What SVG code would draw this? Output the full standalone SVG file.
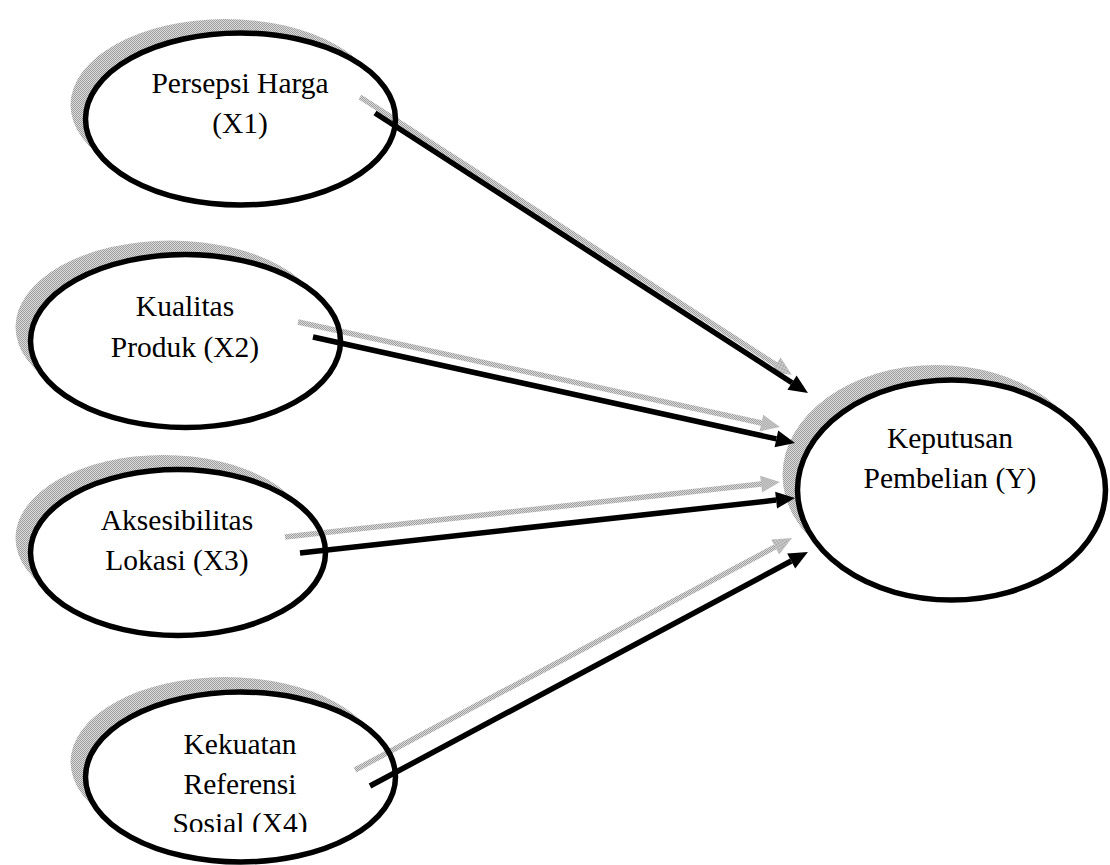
<svg xmlns="http://www.w3.org/2000/svg" width="1110" height="865" viewBox="0 0 1110 865">
  <defs>
    <pattern id="ht" patternUnits="userSpaceOnUse" width="2" height="2">
      <rect x="0" y="0" width="1" height="1" fill="#000" fill-opacity="0.38"/>
      <rect x="1" y="1" width="1" height="1" fill="#000" fill-opacity="0.38"/>
      <rect x="1" y="0" width="1" height="1" fill="#000" fill-opacity="0.14"/>
      <rect x="0" y="1" width="1" height="1" fill="#000" fill-opacity="0.14"/>
    </pattern>
    <marker id="headB" markerUnits="userSpaceOnUse" markerWidth="20" markerHeight="18" refX="0" refY="0" orient="auto" overflow="visible">
      <path d="M0,-8.5 L19,0 L0,8.5 Z" fill="#000"/>
    </marker>
    <marker id="headG" markerUnits="userSpaceOnUse" markerWidth="20" markerHeight="18" refX="0" refY="0" orient="auto" overflow="visible">
      <path d="M0,-8.5 L19,0 L0,8.5 Z" fill="url(#ht)"/>
    </marker>
    <clipPath id="clipX4">
      <rect x="0" y="0" width="1110" height="832"/>
    </clipPath>
  </defs>
  <style>
    .shadow { fill: url(#ht); stroke: none; }
    .node { fill: #fff; stroke: #000; stroke-width: 5.5; }
    .lbl { font-family: "Liberation Serif", "Times New Roman", serif; font-size: 29.5px; fill: #000; text-anchor: middle; }
    .ab { stroke: #000; stroke-width: 5.5; fill: none; marker-end: url(#headB); }
    .ag { stroke: url(#ht); stroke-width: 5.5; fill: none; marker-end: url(#headG); }
  </style>

  <g id="node-x1">
    <ellipse class="shadow" cx="225.5" cy="105" rx="155" ry="86"/>
    <ellipse class="node" cx="240.5" cy="119" rx="155" ry="86"/>
    <text class="lbl" x="240" y="93">Persepsi Harga</text>
    <text class="lbl" x="240" y="133">(X1)</text>
  </g>

  <g id="node-x2">
    <ellipse class="shadow" cx="170.5" cy="327" rx="155" ry="86.5"/>
    <ellipse class="node" cx="185.5" cy="341" rx="155" ry="86.5"/>
    <text class="lbl" x="185" y="316">Kualitas</text>
    <text class="lbl" x="185" y="356.5">Produk (X2)</text>
  </g>

  <g id="node-x3">
    <ellipse class="shadow" cx="163" cy="538" rx="147.5" ry="83"/>
    <ellipse class="node" cx="178" cy="552.5" rx="147.5" ry="83"/>
    <text class="lbl" x="177" y="530">Aksesibilitas</text>
    <text class="lbl" x="177" y="570">Lokasi (X3)</text>
  </g>

  <g id="node-x4">
    <ellipse class="shadow" cx="225.5" cy="762" rx="155" ry="85"/>
    <ellipse class="node" cx="240.5" cy="777" rx="155" ry="85"/>
    <text class="lbl" x="240" y="754">Kekuatan</text>
    <text class="lbl" x="240" y="793.5">Referensi</text>
    <text class="lbl" x="240" y="833" clip-path="url(#clipX4)">Sosial (X4)</text>
  </g>

  <g id="node-y">
    <ellipse class="shadow" cx="936.5" cy="475" rx="154" ry="110"/>
    <ellipse class="node" cx="951.5" cy="490" rx="154" ry="110"/>
    <text class="lbl" x="950" y="448">Keputusan</text>
    <text class="lbl" x="950" y="488">Pembelian (Y)</text>
  </g>

  <g id="connectors">
    <line class="ag" x1="360" y1="97" x2="776.0" y2="364.7"/>
    <line class="ab" x1="375" y1="113" x2="792.0" y2="382.7"/>

    <line class="ag" x1="298" y1="322" x2="761.4" y2="423.0"/>
    <line class="ab" x1="313" y1="337" x2="776.4" y2="438.9"/>

    <line class="ag" x1="285" y1="537" x2="761.1" y2="484.1"/>
    <line class="ab" x1="300" y1="553" x2="776.1" y2="500.1"/>

    <line class="ag" x1="355" y1="770" x2="775.2" y2="546.9"/>
    <line class="ab" x1="370" y1="786" x2="791.2" y2="561.0"/>
  </g>
</svg>
